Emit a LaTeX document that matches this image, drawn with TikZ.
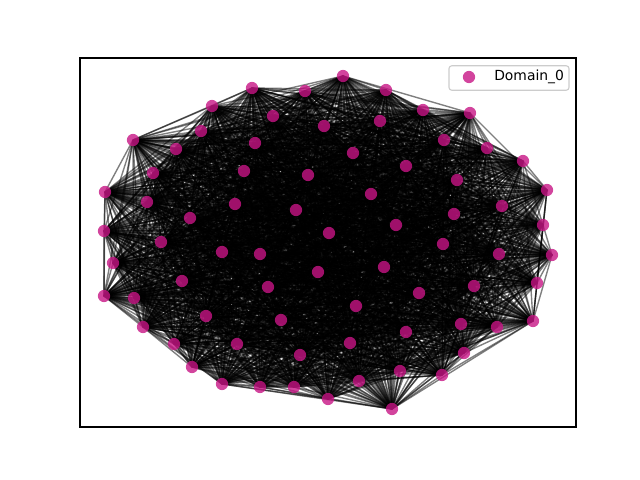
\documentclass[tikz,border=0pt]{standalone}
\usepackage{fontspec}
\setmainfont{DejaVu Sans}
\usetikzlibrary{positioning}
\usepackage{xcolor}
\definecolor{domainpink}{RGB}{199,21,133}
\definecolor{legedge}{RGB}{204,204,204}
\pgfdeclarelayer{background}
\pgfsetlayers{background,main}

\begin{document}
\begin{tikzpicture}[x=0.72pt, y=-0.72pt, font=\fontsize{10}{12}\selectfont,
    dot/.style={circle, fill=domainpink, fill opacity=0.8, inner sep=0pt, minimum size=8.8pt},
    edge/.style={black, draw opacity=0.5, line width=1pt},
    legframe/.style={draw=legedge, fill=white, fill opacity=0.8, rounded corners=2pt, line width=0.8pt, inner sep=0pt}
]
\useasboundingbox (0,0) rectangle (640,480);

% ============ AXES FRAME ============
\draw[black, line width=0.8pt] (80,58) rectangle (576,427);

% ============ NODES ============
% top rows
\node[dot] (n1)  at (252,88)  {};
\node[dot] (n2)  at (305,91)  {};
\node[dot] (n3)  at (343,76)  {};
\node[dot] (n4)  at (386,90)  {};
\node[dot] (n5)  at (212,106) {};
\node[dot] (n6)  at (273,116) {};
\node[dot] (n7)  at (423,110) {};
\node[dot] (n8)  at (470,113) {};
\node[dot] (n9)  at (201,131) {};
\node[dot] (n10) at (324,126) {};
\node[dot] (n11) at (380,121) {};
\node[dot] (n12) at (133,140) {};
\node[dot] (n13) at (176,149) {};
\node[dot] (n14) at (255,143) {};
\node[dot] (n15) at (444,140) {};
\node[dot] (n16) at (353,153) {};
\node[dot] (n17) at (487,148) {};
\node[dot] (n18) at (523,161) {};
\node[dot] (n19) at (153,173) {};
\node[dot] (n20) at (244,171) {};
\node[dot] (n21) at (308,175) {};
\node[dot] (n22) at (406,166) {};
\node[dot] (n23) at (457,180) {};
\node[dot] (n24) at (105,192) {};
\node[dot] (n25) at (547,190) {};
% middle rows
\node[dot] (n26) at (147,202) {};
\node[dot] (n27) at (235,204) {};
\node[dot] (n28) at (371,194) {};
\node[dot] (n29) at (296,210) {};
\node[dot] (n30) at (502,206) {};
\node[dot] (n31) at (190,218) {};
\node[dot] (n32) at (454,214) {};
\node[dot] (n33) at (396,225) {};
\node[dot] (n34) at (104,231) {};
\node[dot] (n35) at (543,225) {};
\node[dot] (n36) at (329,233) {};
\node[dot] (n37) at (161,242) {};
\node[dot] (n38) at (443,244) {};
\node[dot] (n39) at (222,252) {};
\node[dot] (n40) at (260,254) {};
\node[dot] (n41) at (552,255) {};
\node[dot] (n42) at (499,254) {};
\node[dot] (n43) at (113,263) {};
\node[dot] (n44) at (384,267) {};
\node[dot] (n45) at (318,272) {};
\node[dot] (n46) at (182,281) {};
\node[dot] (n47) at (537,283) {};
\node[dot] (n48) at (474,286) {};
\node[dot] (n49) at (268,287) {};
% bottom rows
\node[dot] (n50) at (104,296) {};
\node[dot] (n51) at (134,298) {};
\node[dot] (n52) at (419,293) {};
\node[dot] (n53) at (356,306) {};
\node[dot] (n54) at (206,316) {};
\node[dot] (n55) at (533,321) {};
\node[dot] (n56) at (281,320) {};
\node[dot] (n57) at (461,324) {};
\node[dot] (n58) at (143,327) {};
\node[dot] (n59) at (497,327) {};
\node[dot] (n60) at (406,332) {};
\node[dot] (n61) at (237,344) {};
\node[dot] (n62) at (174,344) {};
\node[dot] (n63) at (350,343) {};
\node[dot] (n64) at (464,353) {};
\node[dot] (n65) at (300,355) {};
\node[dot] (n66) at (192,367) {};
\node[dot] (n67) at (400,371) {};
\node[dot] (n68) at (442,375) {};
\node[dot] (n69) at (222,384) {};
\node[dot] (n70) at (359,381) {};
\node[dot] (n71) at (260,387) {};
\node[dot] (n72) at (294,387) {};
\node[dot] (n73) at (328,399) {};
\node[dot] (n74) at (392,409) {};

% ============ EDGES (dense, seeded) ============
\pgfmathsetseed{11}
\begin{pgfonlayer}{background}
\foreach \i in {1,...,73}{
  \pgfmathtruncatemacro{\first}{\i+1}
  \foreach \j in {\first,...,74}{
    \pgfmathtruncatemacro{\keep}{rnd<0.85}
    \ifnum\keep=1
      \draw[edge] (n\i.center) -- (n\j.center);
    \fi
  }
}
\end{pgfonlayer}

% ============ LEGEND ============
\node[legframe, minimum width=86.4pt, minimum height=17.6pt] (legbox) at (509,78) {};
\node[dot] (legdot) at (469,77) {};
\node[anchor=west, inner sep=0pt] (legtext) at (494,77) {Domain\_0};

\end{tikzpicture}
\end{document}
